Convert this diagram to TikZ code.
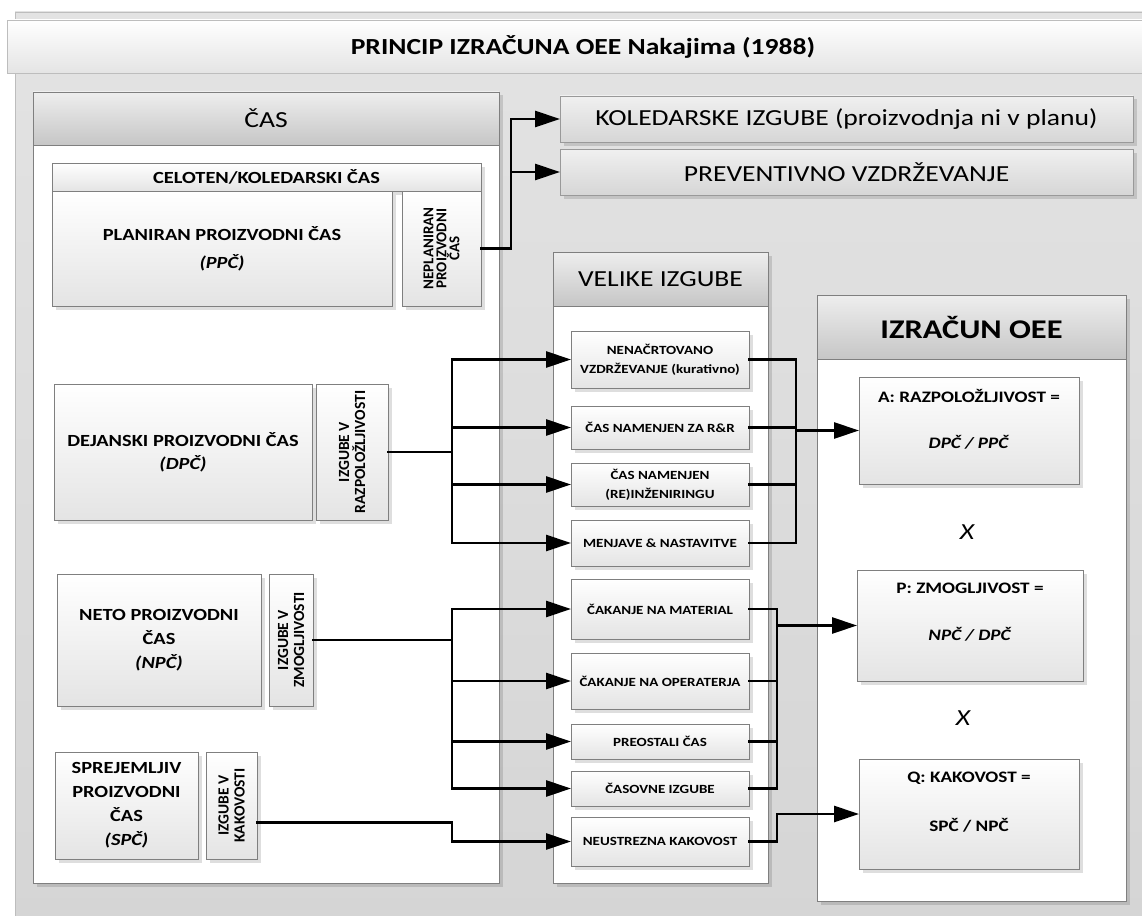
\documentclass[tikz,border=0pt]{standalone}
\usepackage{fontspec}
\setmainfont{Carlito}[FakeStretch=1.2]
\newfontfamily\vertfont{Carlito}
\usetikzlibrary{arrows.meta,shadows,calc}

\definecolor{pagegrayA}{HTML}{E3E3E3}
\definecolor{pagegrayB}{HTML}{D5D5D5}
\definecolor{rimgray}{HTML}{BDBDBD}
\definecolor{edgegray}{HTML}{7F7F7F}
\definecolor{headtop}{HTML}{EEEEEE}
\definecolor{headbot}{HTML}{C6C6C6}
\definecolor{boxbot}{HTML}{E4E4E4}
\definecolor{barTop}{HTML}{F0F0F0}
\definecolor{barBot}{HTML}{D6D6D6}

\tikzset{
  coords/.style args={#1,#2,#3,#4}{anchor=north west, at={(#1,#2)},
     minimum width={(#3-#1)*1pt}, minimum height={(#4-#2)*1pt}},
  shade drop/.style={drop shadow={shadow xshift=3.5pt, shadow yshift=-3.5pt, fill=black, opacity=0.13}},
  panel/.style={draw=edgegray, line width=0.9pt, fill=white, shade drop},
  panelhead/.style={draw=edgegray, line width=0.9pt, top color=headtop, bottom color=headbot,
     font=\fontsize{23}{27}\selectfont},
  box/.style={draw=edgegray, line width=0.9pt, top color=white, bottom color=boxbot, shade drop,
     align=center, font=\fontsize{17}{24}\selectfont\bfseries},
  lossbox/.style={box, font=\fontsize{12.5}{19}\selectfont\bfseries},
  vlabel/.style={rotate=90, align=center, font=\vertfont\fontsize{15.5}{16}\selectfont\bfseries},
  bar/.style={draw=edgegray!80, line width=0.9pt, top color=barTop, bottom color=barBot, shade drop,
     font=\fontsize{23}{27}\selectfont},
  formtext/.style={anchor=base, font=\fontsize{16}{20}\selectfont\bfseries},
  bigx/.style={font=\fontsize{23}{27}\selectfont\itshape},
  conn/.style={line width=2.8pt, line cap=rect, line join=miter},
  arr/.style={conn, -{Triangle[length=25pt,width=16pt]}},
}

\begin{document}
\begin{tikzpicture}[x=1pt,y=-1pt, every node/.style={inner sep=0pt,outer sep=0pt}]
\useasboundingbox (0,0) rectangle (1142,915);

% sheet and title banner
\node[coords={15,12,1160,930}, top color=pagegrayA, bottom color=pagegrayB, draw=rimgray, line width=0.8pt] (sheet) {};
\node[coords={7,20,1160,73}, top color=white, bottom color=boxbot, draw=rimgray, line width=0.8pt] (banner) {};
\node[font=\fontsize{23}{27}\selectfont\bfseries] (title) at (583,47) {PRINCIP IZRAČUNA OEE Nakajima (1988)};

% time panel
\node[panel, coords={33,92,499,883}] (timepanel) {};
\node[panelhead, coords={33,92,499,145}] (timehead) {ČAS};
\node[box, coords={52,163,481,191}] (total) {CELOTEN/KOLEDARSKI ČAS};
\node[box, coords={52,191,392,306}, font=\fontsize{17}{28}\selectfont\bfseries] (planned) {PLANIRAN PROIZVODNI ČAS\\\textit{(PPČ)}};
\node[box, coords={402,191,481,306}] (unplanned) {};
\node[vlabel, font=\vertfont\fontsize{15}{13}\selectfont\bfseries] (unplannedtxt) at (unplanned) {NEPLANIRAN\\PROIZVODNI\\ČAS};

\node[box, coords={54,384,312,520}, font=\fontsize{17}{23}\selectfont\bfseries] (actual) {DEJANSKI PROIZVODNI ČAS\\\textit{(DPČ)}};
\node[box, coords={316,384,388,520}] (availloss) {};
\node[vlabel] (availlosstxt) at (availloss) {IZGUBE V\\RAZPOLOŽLJIVOSTI};

\node[box, coords={57,574,261,706}] (net) {NETO PROIZVODNI\\ČAS\\\textit{(NPČ)}};
\node[box, coords={269,574,313,706}] (perfloss) {};
\node[vlabel] (perflosstxt) at (perfloss) {IZGUBE V\\ZMOGLJIVOSTI};

\node[box, coords={55,752,198,859}] (accepted) {SPREJEMLJIV\\PROIZVODNI\\ČAS\\\textit{(SPČ)}};
\node[box, coords={206,752,257,859}] (qualloss) {};
\node[vlabel] (quallosstxt) at (qualloss) {IZGUBE V\\KAKOVOSTI};

% calendar bars
\node[bar, coords={560,96,1133,142}] (calendar) {KOLEDARSKE IZGUBE (proizvodnja ni v planu)};
\node[bar, coords={560,149,1133,195}] (preventive) {PREVENTIVNO VZDRŽEVANJE};

% losses panel
\node[panel, coords={553,252,768,883}] (losspanel) {};
\node[panelhead, coords={553,252,768,306}] (losshead) {VELIKE IZGUBE};
\node[lossbox, coords={571,331,749,388}] (l1) {NENAČRTOVANO\\VZDRŽEVANJE (kurativno)};
\node[lossbox, coords={571,406,749,449}] (l2) {ČAS NAMENJEN ZA R\&R};
\node[lossbox, coords={571,463,749,506}] (l3) {ČAS NAMENJEN\\(RE)INŽENIRINGU};
\node[lossbox, coords={571,520,749,566}] (l4) {MENJAVE \& NASTAVITVE};
\node[lossbox, coords={571,579,749,639}] (l5) {ČAKANJE NA MATERIAL};
\node[lossbox, coords={571,653,749,709}] (l6) {ČAKANJE NA OPERATERJA};
\node[lossbox, coords={571,724,749,759}] (l7) {PREOSTALI ČAS};
\node[lossbox, coords={571,771,749,806}] (l8) {ČASOVNE IZGUBE};
\node[lossbox, coords={571,817,749,866}] (l9) {NEUSTREZNA KAKOVOST};

% OEE panel
\node[panel, coords={817,295,1126,901}] (oeepanel) {};
\node[panelhead, coords={817,295,1126,359}, font=\fontsize{27}{32}\selectfont\bfseries] (oeehead) {IZRAČUN OEE};
\node[box, coords={859,377,1079,484}] (avail) {};
\node[formtext] (availtitle) at (969,402) {A: RAZPOLOŽLJIVOST =};
\node[formtext] (availform) at (969,448) {\textit{DPČ / PPČ}};
\node[bigx] (times1) at (967,532) {X};
\node[box, coords={857,570,1083,681}] (perf) {};
\node[formtext] (perftitle) at (970,593) {P: ZMOGLJIVOST =};
\node[formtext] (perfform) at (970,640) {\textit{NPČ / DPČ}};
\node[bigx] (times2) at (963,718) {X};
\node[box, coords={859,759,1079,869}] (qual) {};
\node[formtext] (qualtitle) at (969,782) {Q: KAKOVOST =};
\node[formtext] (qualform) at (969,831) {SPČ / NPČ};

% connectors: unplanned time
\coordinate (upper) at ($(unplanned.east)+(30,0)$);
\draw[conn] (unplanned.east) -- (upper);
\draw[arr] (upper) |- (calendar.west);
\draw[arr] (upper) |- (preventive.west);

% connectors: loss forks on the left
\coordinate (forkA) at (452,0);
\draw[conn] (availloss.east) -- (availloss.east -| forkA);
\draw[conn] (forkA |- l1.west) -- (forkA |- l4.west);
\foreach \t in {l1,l2,l3,l4} \draw[arr] (forkA |- \t.west) -- (\t.west);

\draw[conn] (perfloss.east) -- (perfloss.east -| forkA);
\draw[conn] (forkA |- l5.west) -- (forkA |- l8.west);
\foreach \t in {l5,l6,l7,l8} \draw[arr] (forkA |- \t.west) -- (\t.west);

\coordinate (qualexit) at ($(qualloss.south east)!0.34!(qualloss.north east)$);
\draw[arr] (qualexit) -- (qualexit -| forkA) |- (l9.west);

% connectors: merges on the right
\coordinate (mergeA) at (796,0);
\foreach \s in {l1,l2,l3,l4} \draw[conn] (\s.east) -- (\s.east -| mergeA);
\draw[conn] (mergeA |- l1.east) -- (mergeA |- l4.east);
\draw[arr] (mergeA |- avail.west) -- (avail.west);

\coordinate (mergeB) at (777,0);
\foreach \s in {l5,l6,l7,l8} \draw[conn] (\s.east) -- (\s.east -| mergeB);
\draw[conn] (mergeB |- l5.east) -- (mergeB |- l8.east);
\draw[arr] (mergeB |- perf.west) -- (perf.west);

\draw[arr] (l9.east) -- (l9.east -| mergeB) |- (qual.west);
\end{tikzpicture}
\end{document}
